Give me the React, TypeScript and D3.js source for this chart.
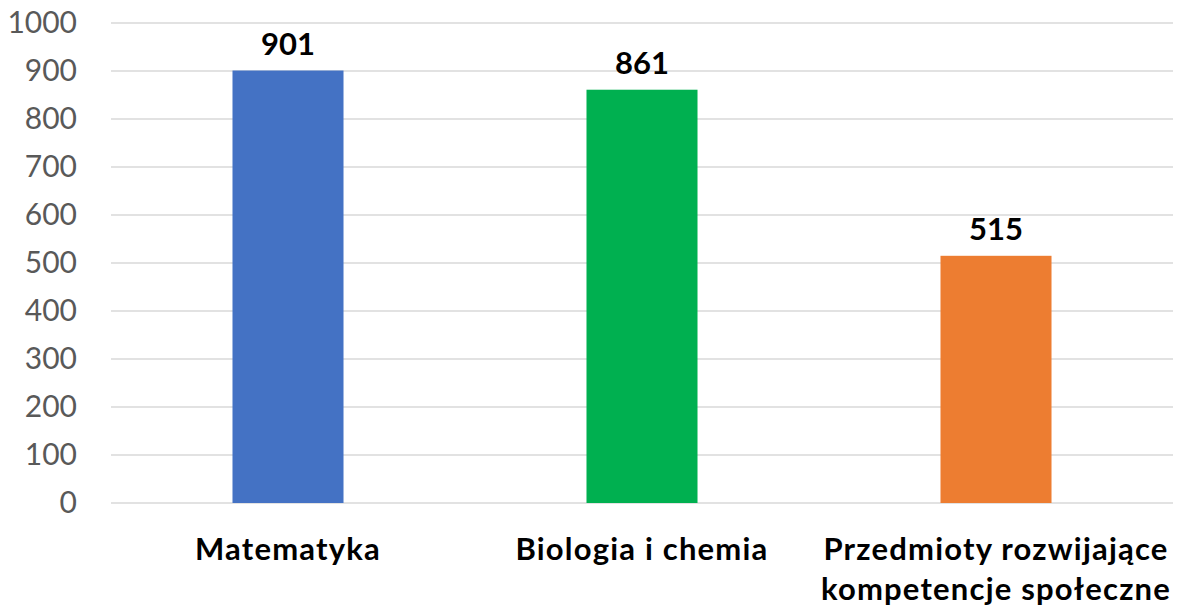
import React from "react";
import * as d3 from "d3";

const categories = ["Matematyka", "Biologia i chemia", "Przedmioty rozwijające kompetencje społeczne"];
const labelLines = [["Matematyka"], ["Biologia i chemia"], ["Przedmioty rozwijające", "kompetencje społeczne"]];
const values = [901, 861, 515];
const colors = ["#4472C4", "#00B050", "#ED7D31"];
const yTicks = [0, 100, 200, 300, 400, 500, 600, 700, 800, 900, 1000];

const W = 1184;
const H = 616;
const margin = { left: 111, right: 11, top: 23, bottom: 113 };

export default function App() {
  const x = d3
    .scaleBand<string>()
    .domain(categories)
    .range([margin.left, W - margin.right])
    .paddingInner(0.6864)
    .paddingOuter(0.6864 / 2);
  const y = d3.scaleLinear().domain([0, 1000]).range([H - margin.bottom, margin.top]);
  const font = "Lato, 'Open Sans', sans-serif";
  return (
    <svg
      width={W}
      height={H}
      style={{ position: "absolute", left: 0, top: 0, background: "#fff" }}
    >
      <rect x={0} y={0} width={W} height={H} fill="#fff" />
      {yTicks.map((t) => (
        <g key={t}>
          <line
            x1={margin.left}
            x2={W - margin.right}
            y1={y(t)}
            y2={y(t)}
            stroke="#D9D9D9"
            strokeWidth={1.3}
          />
          <text
            x={77}
            y={y(t)}
            dy="0.34em"
            textAnchor="end"
            fontFamily={font}
            fontSize={30}
            fill="#595959"
          >
            {t}
          </text>
        </g>
      ))}
      {categories.map((c, i) => (
        <g key={c}>
          <rect
            x={x(c)}
            y={y(values[i])}
            width={x.bandwidth()}
            height={y(0) - y(values[i])}
            fill={colors[i]}
          />
          <text
            x={(x(c) as number) + x.bandwidth() / 2}
            y={y(values[i]) - 16}
            textAnchor="middle"
            fontFamily={font}
            fontWeight="bold"
            fontSize={31}
            fill="#000"
          >
            {values[i]}
          </text>
          {labelLines[i].map((ln, j) => (
            <text
              key={j}
              x={(x(c) as number) + x.bandwidth() / 2}
              y={560 + j * 40}
              textAnchor="middle"
              fontFamily={font}
              fontWeight="bold"
              fontSize={31}
              letterSpacing={1.2}
              fill="#000"
            >
              {ln}
            </text>
          ))}
        </g>
      ))}
    </svg>
  );
}
